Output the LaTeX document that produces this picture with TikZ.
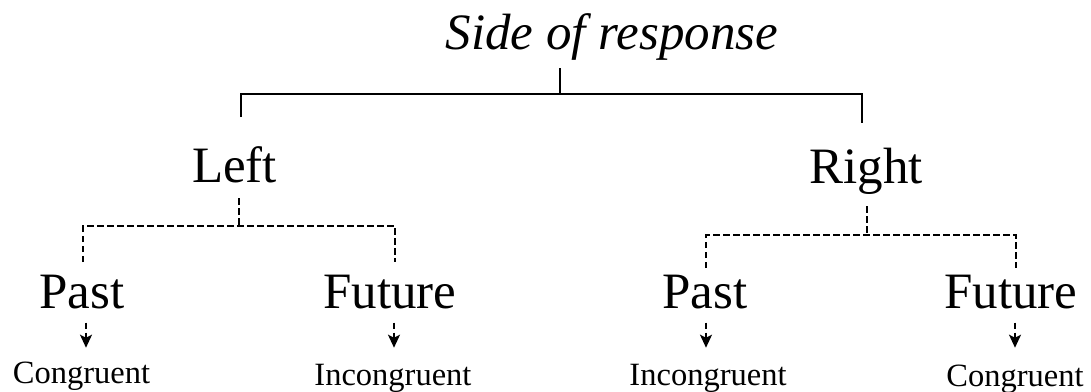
\documentclass[tikz,border=0pt]{standalone}
\usepackage{fontspec}
\setmainfont{Liberation Serif}
\usetikzlibrary{arrows.meta}
\tikzset{
  big/.style={font=\fontsize{51}{60}\selectfont, inner sep=0pt, anchor=base},
  title/.style={font=\fontsize{51}{60}\selectfont\itshape, inner sep=0pt, anchor=base},
  small/.style={font=\fontsize{32.5}{38}\selectfont, inner sep=0pt, anchor=base},
  solidline/.style={line width=1.9pt},
  dashline/.style={line width=1.9pt, dash pattern=on 6.5pt off 3.5pt},
  downarrow/.style={dashline, -{Stealth[length=13pt,width=12pt,inset=3pt]}},
}
\begin{document}
\begin{tikzpicture}[x=1pt,y=-1pt]
  \useasboundingbox (0,0) rectangle (1091,391);
  % texts
  \node[title] (side) at (612,49) {Side of response};
  \node[big] (left) at (234.5,182) {Left};
  \node[big] (right) at (866,183) {Right};
  \node[big] (pastL) at (82,308) {Past};
  \node[big] (futL) at (390,308) {Future};
  \node[big] (pastR) at (705,308) {Past};
  \node[big] (futR) at (1011,308) {Future};
  \node[small] (congL) at (81.5,383) {Congruent};
  \node[small] (incL) at (393,385) {Incongruent};
  \node[small] (incR) at (708,385) {Incongruent};
  \node[small] (congR) at (1015,386) {Congruent};
  % solid bracket
  \coordinate (j0) at (560,94);
  \coordinate (endL) at (241,117);
  \coordinate (endR) at (862,123);
  \draw[solidline] (560,68) -- (j0);
  \draw[solidline] (endL) |- (j0) -| (endR);
  % dashed brackets
  \coordinate (j1) at (239,226);
  \coordinate (j2) at (867,235);
  \draw[dashline] (239,198) -- (j1);
  \draw[dashline] (83,262) |- (j1) -| (395,262);
  \draw[dashline] (867,206) -- (j2);
  \draw[dashline] (706,268) |- (j2) -| (1016,268);
  % arrows
  \draw[downarrow] ([xshift=4pt,yshift=-14pt]pastL.south) -- ++(0,25);
  \draw[downarrow] ([xshift=4pt,yshift=-14pt]futL.south) -- ++(0,25);
  \draw[downarrow] ([xshift=1pt,yshift=-14pt]pastR.south) -- ++(0,25);
  \draw[downarrow] ([xshift=4pt,yshift=-14pt]futR.south) -- ++(0,25);
\end{tikzpicture}
\end{document}
